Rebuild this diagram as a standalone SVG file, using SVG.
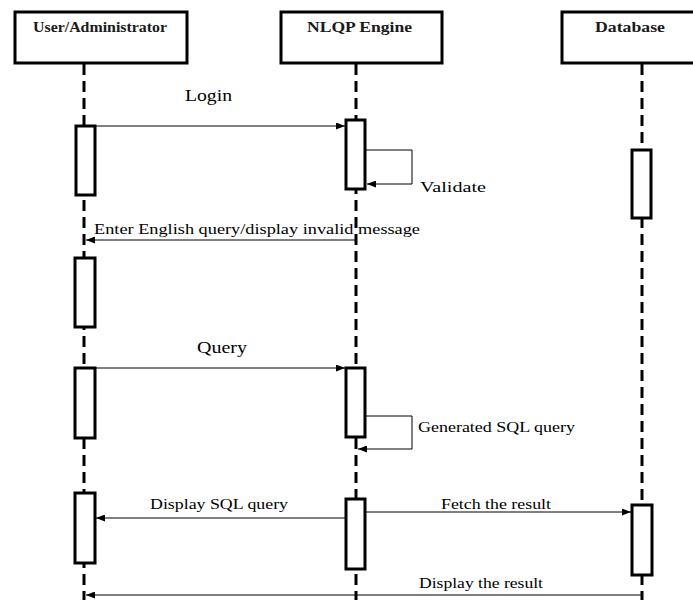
<svg xmlns="http://www.w3.org/2000/svg" width="693" height="600" viewBox="0 0 693 600">
<style>
.box{fill:#fff;stroke:#000;stroke-width:3}
.life{stroke:#000;stroke-width:3;stroke-dasharray:11 6;fill:none}
.act{fill:#fff;stroke:#000;stroke-width:3}
.msg{stroke:#000;stroke-width:1;fill:none}
.title{font-family:"Liberation Serif","Times New Roman",serif;font-weight:bold;font-size:14px;fill:#1a1a1a}
.lbl{font-family:"Liberation Serif","Times New Roman",serif;font-size:14px;fill:#000}
.big{font-size:16px}
</style>
<defs>
<marker id="ah" markerWidth="9" markerHeight="7" refX="9" refY="3.5" orient="auto" markerUnits="userSpaceOnUse">
<path d="M0,0 L9,3.5 L0,7 Z" fill="#000"/>
</marker>
</defs>
<rect width="693" height="600" fill="#fff"/>
<g id="lifelines">
<line class="life" x1="84" y1="64" x2="84" y2="600"/>
<line class="life" x1="356" y1="64" x2="356" y2="600"/>
<line class="life" x1="642" y1="64" x2="642" y2="600"/>
</g>
<g id="user">
<rect class="box" x="15" y="12" width="172" height="51"/>
<text class="title" x="33" y="32" textLength="134" lengthAdjust="spacingAndGlyphs">User/Administrator</text>
</g>
<g id="nlqp">
<rect class="box" x="281" y="12" width="161" height="51"/>
<text class="title" x="307" y="32" textLength="105" lengthAdjust="spacingAndGlyphs">NLQP Engine</text>
</g>
<g id="database">
<rect class="box" x="562" y="12" width="140" height="51"/>
<text class="title" x="595" y="32" textLength="70" lengthAdjust="spacingAndGlyphs">Database</text>
</g>
<g id="activations">
<rect class="act" x="76" y="126" width="19" height="69"/>
<rect class="act" x="346" y="120" width="19" height="69"/>
<rect class="act" x="632" y="150" width="19" height="68"/>
<rect class="act" x="75" y="258" width="20" height="69"/>
<rect class="act" x="75" y="368" width="20" height="70"/>
<rect class="act" x="346" y="368" width="19" height="69"/>
<rect class="act" x="75" y="493" width="20" height="70"/>
<rect class="act" x="346" y="499" width="19" height="70"/>
<rect class="act" x="632" y="505" width="20" height="70"/>
</g>
<g id="connectors">
<line class="msg" x1="96" y1="126" x2="345" y2="126" marker-end="url(#ah)"/>
<polyline class="msg" points="366,150 412,150 412,184 367,184" marker-end="url(#ah)"/>
<line class="msg" x1="356" y1="240" x2="86" y2="240" marker-end="url(#ah)"/>
<line class="msg" x1="96" y1="368" x2="345" y2="368" marker-end="url(#ah)"/>
<polyline class="msg" points="366,416 412,416 412,449 358,449" marker-end="url(#ah)"/>
<line class="msg" x1="345" y1="518" x2="96" y2="518" marker-end="url(#ah)"/>
<line class="msg" x1="366" y1="512" x2="631" y2="512" marker-end="url(#ah)"/>
<line class="msg" x1="642" y1="595" x2="86" y2="595" marker-end="url(#ah)"/>
</g>
<g id="labels">
<text class="lbl big" x="185" y="101" textLength="47" lengthAdjust="spacingAndGlyphs">Login</text>
<text class="lbl" x="420" y="192" textLength="66" lengthAdjust="spacingAndGlyphs">Validate</text>
<text class="lbl" x="94" y="234" textLength="326" lengthAdjust="spacingAndGlyphs">Enter English  query/display invalid  message</text>
<text class="lbl big" x="197" y="353" textLength="50" lengthAdjust="spacingAndGlyphs">Query</text>
<text class="lbl" x="418" y="432" textLength="157" lengthAdjust="spacingAndGlyphs">Generated SQL  query</text>
<text class="lbl" x="150" y="509" textLength="138" lengthAdjust="spacingAndGlyphs">Display  SQL  query</text>
<text class="lbl" x="441" y="509" textLength="110" lengthAdjust="spacingAndGlyphs">Fetch the result</text>
<text class="lbl" x="419" y="588" textLength="124" lengthAdjust="spacingAndGlyphs">Display  the result</text>
</g>
</svg>
